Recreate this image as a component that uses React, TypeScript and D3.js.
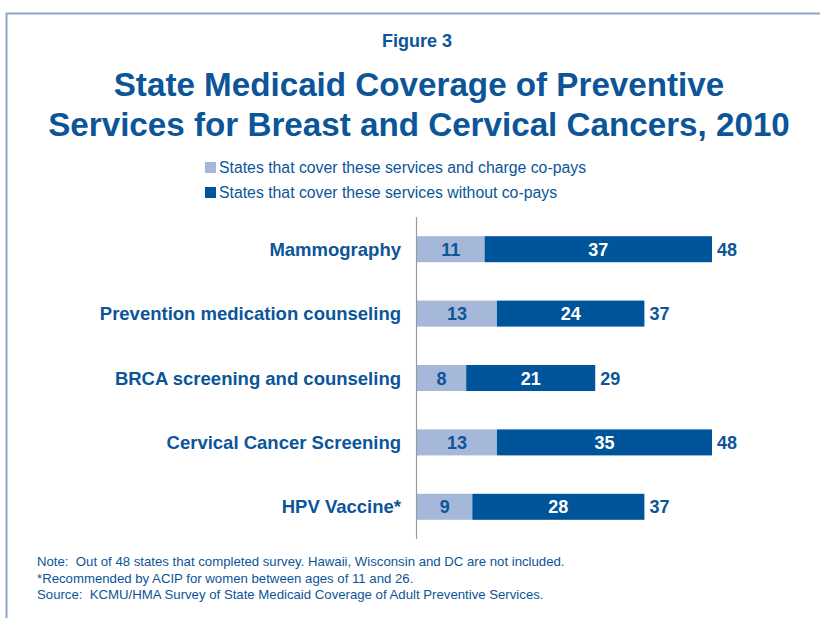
import * as d3 from 'd3';

const categories = [
  'Mammography',
  'Prevention medication counseling',
  'BRCA screening and counseling',
  'Cervical Cancer Screening',
  'HPV Vaccine*',
];
const withCopays = [11, 13, 8, 13, 9];
const withoutCopays = [37, 24, 21, 35, 28];
const totals = [48, 37, 29, 48, 37];

const legendLabels = [
  'States that cover these services and charge co-pays',
  'States that cover these services without co-pays',
];
const notes = [
  'Note:  Out of 48 states that completed survey. Hawaii, Wisconsin and DC are not included.',
  '*Recommended by ACIP for women between ages of 11 and 26.',
  'Source:  KCMU/HMA Survey of State Medicaid Coverage of Adult Preventive Services.',
];

const LIGHT = '#a6b8d9';
const DARK = '#00559a';
const TEXT = '#0b5598';
const FONT = '"Liberation Sans", Arial, Helvetica, sans-serif';

export default function App() {
  const width = 820;
  const height = 618;

  const x = d3.scaleLinear().domain([0, 48]).range([417, 712]);
  const y = d3
    .scaleBand<string>()
    .domain(categories)
    .range([217, 539])
    .paddingInner(0.596)
    .paddingOuter(0.298);

  const bw = y.bandwidth();

  return (
    <svg
      width={width}
      height={height}
      style={{ position: 'absolute', left: 0, top: 0, fontFamily: FONT }}
    >
      <rect x={0} y={0} width={width} height={height} fill="#fff" />
      {/* frame */}
      <path d="M6.5,640 V13.5 H830" fill="none" stroke="#8ea6cc" strokeWidth={2} />

      <text x={417} y={47} textAnchor="middle" fill={TEXT} fontSize={18} fontWeight="bold">
        Figure 3
      </text>
      <text x={419} y={96} textAnchor="middle" fill={TEXT} fontSize={33.2} fontWeight="bold">
        State Medicaid Coverage of Preventive
      </text>
      <text x={419} y={136} textAnchor="middle" fill={TEXT} fontSize={33.2} fontWeight="bold">
        Services for Breast and Cervical Cancers, 2010
      </text>

      {/* legend */}
      {legendLabels.map((l, i) => (
        <g key={l} transform={`translate(205,${162 + i * 25})`}>
          <rect width={11} height={11} fill={i === 0 ? LIGHT : DARK} />
          <text x={14} y={11} fill={TEXT} fontSize={15.8}>
            {l}
          </text>
        </g>
      ))}

      {/* bars */}
      {categories.map((c, i) => {
        const y0 = y(c)!;
        const cy = y0 + bw / 2;
        const x1 = x(withCopays[i]);
        const x2 = x(withCopays[i] + withoutCopays[i]);
        return (
          <g key={c}>
            <text x={401} y={cy + 6.5} textAnchor="end" fill={TEXT} fontSize={18.5} fontWeight="bold">
              {c}
            </text>
            <rect x={x(0)} y={y0} width={x1 - x(0)} height={bw} fill={LIGHT} />
            <rect x={x1} y={y0} width={x2 - x1} height={bw} fill={DARK} />
            <text x={(x(0) + x1) / 2} y={cy + 6.5} textAnchor="middle" fill={TEXT} fontSize={18} fontWeight="bold">
              {withCopays[i]}
            </text>
            <text x={(x1 + x2) / 2} y={cy + 6.5} textAnchor="middle" fill="#fff" fontSize={18} fontWeight="bold">
              {withoutCopays[i]}
            </text>
            <text x={x2 + 5} y={cy + 6.5} fill={TEXT} fontSize={18} fontWeight="bold">
              {totals[i]}
            </text>
          </g>
        );
      })}

      <line x1={416.5} x2={416.5} y1={217} y2={539} stroke="#9a9a9a" strokeWidth={1.2} />

      {notes.map((n, i) => (
        <text key={i} x={37} y={566 + i * 16.5} fill={TEXT} fontSize={13.2} style={{ whiteSpace: 'pre' }}>
          {n}
        </text>
      ))}
    </svg>
  );
}
